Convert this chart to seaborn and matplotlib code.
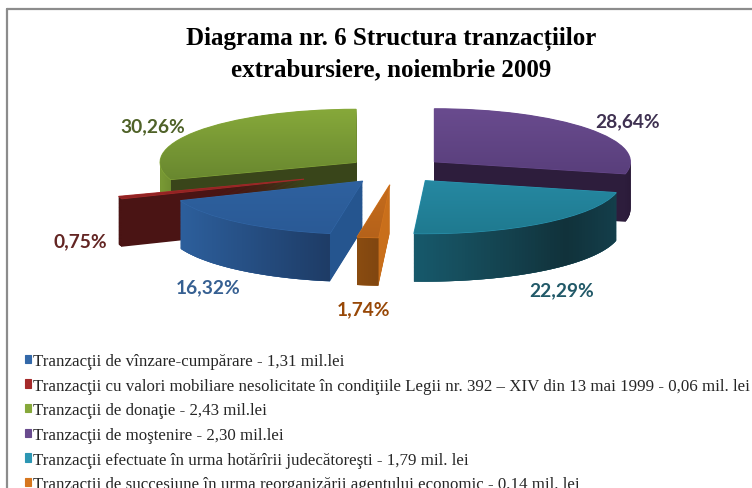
import numpy as np
import matplotlib
matplotlib.use('Agg')
import matplotlib.pyplot as plt
import seaborn as sns
from matplotlib.lines import Line2D
from matplotlib.patches import Polygon

sns.set_theme(style='white')

# data
shares = [16.32, 0.75, 30.26, 28.64, 22.29, 1.74]
explode = [0.27, 0.50, 0.25, 0.25, 0.25, 0.28]
legend_labels = [
    'Tranzacţii de vînzare-cumpărare - 1,31 mil.lei',
    'Tranzacţii cu valori mobiliare nesolicitate în condiţiile Legii nr. 392 – XIV din 13 mai 1999 - 0,06 mil. lei',
    'Tranzacţii de donaţie - 2,43 mil.lei',
    'Tranzacţii de moştenire - 2,30 mil.lei',
    'Tranzacţii efectuate în urma hotărîrii judecătoreşti - 1,79 mil. lei',
    'Tranzacţii de succesiune în urma reorganizării agentului economic - 0,14 mil. lei',
]
title = 'Diagrama nr. 6 Structura tranzacțiilor\nextrabursiere, noiembrie 2009'

# colours
top_colors = [('#3368a8', '#2a5a96'), ('#a52a2a', '#8a2020'), ('#86a83a', '#5a772a'),
              ('#694b8e', '#4f3770'), ('#2c96b3', '#1f7a90'), ('#d6761e', '#b5621a')]
cut_colors = ['#25558f', '#4a1414', '#39451a', '#2d1d3c', '#14434f', '#c96f1b']
arc_colors = [['#2d5f9c', '#1e3c66'], ['#4a1414', '#4a1414'], ['#7a9a35', '#6f8e30'],
              ['#2d1d3c', '#2a1a38'], ['#17596b', '#164d5c', '#14404c', '#11323b', '#143e4a'],
              ['#8a4c10', '#804610']]
label_colors = ['#366092', '#632523', '#4f6228', '#3f3151', '#215968', '#984807']
label_xy = [(208, 288), (80, 242), (153, 127), (628, 122), (562, 291), (363, 310)]
order = [3, 2, 0, 1, 5, 4]   # paint order of the slices, back ones go first

W, H = 752, 489
cx, cy, rx, ry = 396, 171, 196, 53
depth = 48 / ry

fig = plt.figure(figsize=(W / 100, H / 100), dpi=100)
ax = fig.add_axes([0, 0, 1, 1])

# start so that the green slice ends at 12 o'clock
start = 90 - 360 * (1 - sum(shares[:3]) / 100)

# side walls: the same pie stacked downwards
for k in np.linspace(depth, 0.02, 60):
    wedges, _ = ax.pie(shares, explode=explode, startangle=start, counterclock=False,
                       colors=cut_colors, center=(0, -k), normalize=True,
                       wedgeprops={'linewidth': 0})
    for w, z in zip(wedges, order):
        w.set_zorder(z)

# top faces
tops, _ = ax.pie(shares, explode=explode, startangle=start, counterclock=False,
                 colors=[c[0] for c in top_colors], normalize=True,
                 wedgeprops={'linewidth': 0})

for i, w in enumerate(tops):
    z = order[i]
    w.set_zorder(z + 0.5)
    w.set_edgecolor(top_colors[i][0])
    w.set_linewidth(0.8)
    x0, y0 = w.center

    # vertical gradient on the top
    cmap = sns.blend_palette(top_colors[i], as_cmap=True)
    grad = np.linspace(0, 1, 64).reshape(-1, 1)
    im = ax.imshow(grad, cmap=cmap, extent=(x0 - 1, x0 + 1, y0 - 1, y0 + 1), aspect='auto',
                   origin='upper', zorder=z + 0.6)
    im.set_clip_path(w)

    # horizontal gradient on the outer wall, front part only
    theta = np.radians(np.linspace(w.theta1, w.theta2, 200))
    theta = theta[np.sin(theta) <= 0]
    if len(theta) < 2:
        continue
    xs = x0 + np.cos(theta)
    ys = y0 + np.sin(theta)
    pts = np.column_stack([np.r_[xs, xs[::-1]], np.r_[ys, ys[::-1] - depth]])
    wall = Polygon(pts, closed=True, facecolor=arc_colors[i][0], linewidth=0, zorder=z + 0.3)
    ax.add_patch(wall)
    cmap = sns.blend_palette(arc_colors[i], as_cmap=True)
    im = ax.imshow(np.linspace(0, 1, 64).reshape(1, -1), cmap=cmap, aspect='auto',
                   extent=(xs.min(), xs.max(), ys.min() - depth, ys.max()), zorder=z + 0.4)
    im.set_clip_path(wall)

ax.set_aspect('auto')
ax.set_xlim((0 - cx) / rx, (W - cx) / rx)
ax.set_ylim((cy - H) / ry, cy / ry)
ax.axis('off')

# percent labels
for v, c, (px, py) in zip(shares, label_colors, label_xy):
    fig.text(px / W, 1 - py / H, f'{v:.2f}%'.replace('.', ','), color=c, fontsize=13.8,
             family='Lato', fontweight='bold', ha='center', va='center')

fig.text(391 / W, 1 - 54 / H, title, family='Liberation Serif', fontweight='bold', fontsize=18,
         color='black', ha='center', va='center', linespacing=1.45)

leg = ax.legend(tops, legend_labels, loc='upper left', bbox_to_anchor=(25 / W, 1 - 354 / H),
                bbox_transform=fig.transFigure, frameon=False,
                prop={'family': 'Liberation Serif', 'size': 12.2}, handlelength=0.38, handleheight=0.38,
                handletextpad=0.1, labelspacing=0.51, borderpad=0, borderaxespad=0)
leg.set_zorder(20)

# chart frame
fig.add_artist(Line2D([7 / W, 1], [1 - 10 / H, 1 - 10 / H], color='#8c8c8c', lw=1.6))
fig.add_artist(Line2D([7 / W, 7 / W], [0, 1 - 10 / H], color='#8c8c8c', lw=1.6))

fig.savefig('out.png', dpi=100)
